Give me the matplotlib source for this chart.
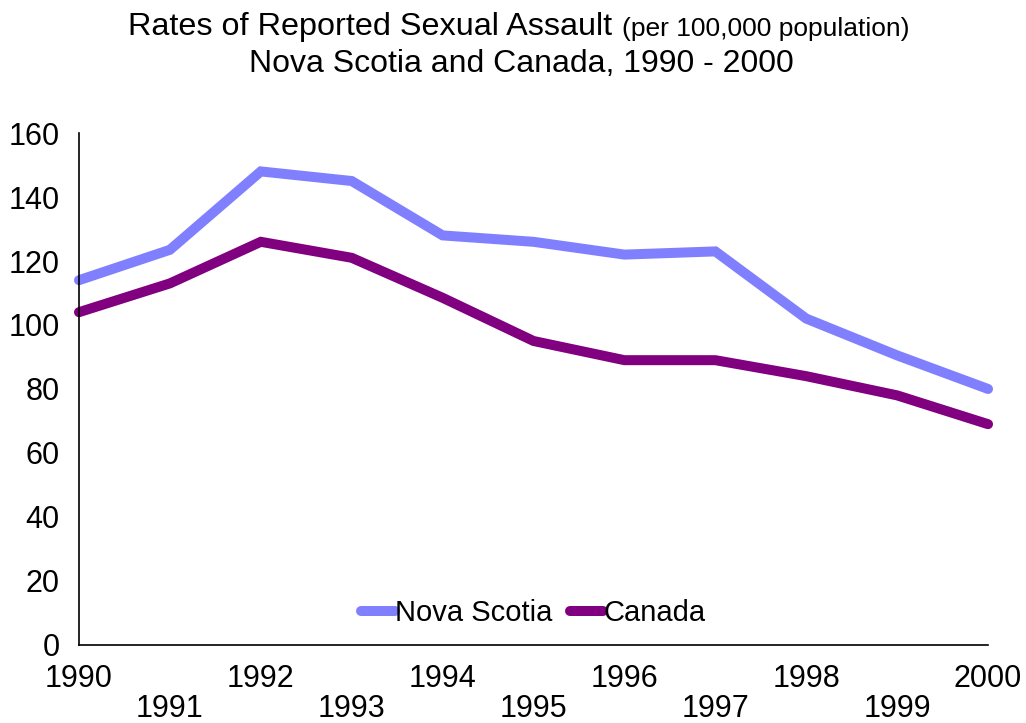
import matplotlib.pyplot as plt

plt.rcParams['font.family'] = ['Liberation Sans', 'DejaVu Sans']

years = [1990, 1991, 1992, 1993, 1994, 1995, 1996, 1997, 1998, 1999, 2000]
nova_scotia = [114, 123.5, 148, 145, 128, 126, 122, 123, 102, 90.5, 80]
canada = [104, 113, 126, 121, 108.5, 95, 89, 89, 84, 78, 69]
y_ticks = [0, 20, 40, 60, 80, 100, 120, 140, 160]

fig = plt.figure(figsize=(10.26, 7.23), dpi=100)
ax = fig.add_axes([0.077, 0.108, 0.886, 0.708])

ax.plot(years, nova_scotia, color='#8080FF', lw=7.2, solid_capstyle='round',
        solid_joinstyle='miter', label='Nova Scotia')
ax.plot(years, canada, color='#800080', lw=7.2, solid_capstyle='round',
        solid_joinstyle='miter', label='Canada')

ax.set_xlim(1990, 2000)
ax.set_ylim(0, 160)
ax.set_yticks(y_ticks)
ax.set_yticklabels([str(v) for v in y_ticks], fontsize=22)

# staggered year labels: odd years drop to a second row
ax.set_xticks(years)
ax.set_xticklabels([str(y) if y % 2 == 0 else '\n' + str(y) for y in years],
                   fontsize=22, linespacing=1.0)
ax.tick_params(length=0)
ax.tick_params(axis='x', pad=14)
ax.tick_params(axis='y', pad=14)

for side in ['top', 'right']:
    ax.spines[side].set_visible(False)
for side in ['left', 'bottom']:
    ax.spines[side].set_linewidth(1.2)
for ln in ax.lines:
    ln.set_clip_on(False)

leg = ax.legend(loc='lower center', bbox_to_anchor=(0.5, 0.0), ncol=2,
                frameon=False, fontsize=21, handlelength=1.15, handletextpad=0.0,
                columnspacing=0.6, borderaxespad=0.2)

fig.text(0.5965, 0.962, 'Rates of Reported Sexual Assault', ha='right',
         va='center', fontsize=23.3)
fig.text(0.606, 0.960, '(per 100,000 population)', ha='left', va='center',
         fontsize=19)
fig.text(0.508, 0.912, 'Nova Scotia and Canada, 1990 - 2000', ha='center',
         va='center', fontsize=23)

fig.savefig('out.png', dpi=100)
